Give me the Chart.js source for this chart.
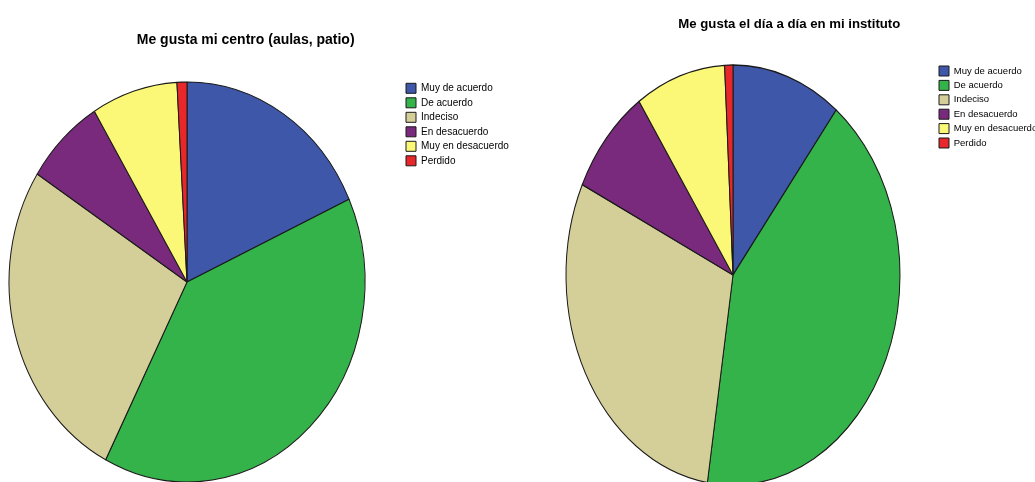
<!DOCTYPE html>
<html>
<head>
<meta charset="utf-8">
<script src="https://cdn.jsdelivr.net/npm/chart.js@4.4.1/dist/chart.umd.min.js"></script>
<style>
  html, body { margin: 0; padding: 0; background: #fff; overflow: hidden; }
  body { width: 1035px; height: 482px; position: relative; }
  canvas { position: absolute; top: 0; }
</style>
</head>
<body>
<canvas id="centroChart"></canvas>
<canvas id="institutoChart"></canvas>
<script>
const categories = ["Muy de acuerdo", "De acuerdo", "Indeciso", "En desacuerdo", "Muy en desacuerdo", "Perdido"];
const sliceColours = ["#3f57a9", "#33b34a", "#d4cf98", "#7a2a7c", "#fbf878", "#e8272b"];
const centroValues = [18.2, 39.3, 26.5, 7.2, 7.8, 0.9];
const institutoValues = [10.6, 41.8, 29.6, 8.4, 8.7, 0.8];
const centroTitle = "Me gusta mi centro (aulas, patio)";
const institutoTitle = "Me gusta el día a día en mi instituto";

const fontFamily = '"Liberation Sans", Arial, sans-serif';
const boxSize = 10;

// SPSS draws these pies a bit taller than wide, so stretch the arcs around the centre
const stretchPlugin = {
  id: "stretch",
  beforeDatasetsDraw(chart, args, opts) {
    const arc = chart.getDatasetMeta(0).data[0];
    const ctx = chart.ctx;
    ctx.save();
    ctx.translate(arc.x, arc.y);
    ctx.scale(1, opts.ratio);
    ctx.translate(-arc.x, -arc.y);
  },
  afterDatasetsDraw(chart) {
    chart.ctx.restore();
  },
};

function textWidth(text, size) {
  const ctx = document.createElement("canvas").getContext("2d");
  ctx.font = size + "px " + fontFamily;
  return ctx.measureText(text).width;
}

// s: page positions wanted for the pie centre / radii, the first legend box and the title line
function makePie(canvasId, title, values, s) {
  const canvas = document.getElementById(canvasId);
  const left = s.canvasLeft;
  const height = 490;
  const legendPad = s.rowGap - Math.max(s.legendFont, boxSize);
  const legendLeft = s.legendX - legendPad - left;
  const padLeft = 2 * (s.cx - left) - legendLeft;
  const maxText = Math.max(...categories.map((c) => textWidth(c, s.legendFont)));
  const legendWidth = legendPad + boxSize + s.legendFont / 2 + maxText + 10;
  const width = Math.ceil(legendLeft + legendWidth + 2);
  canvas.width = width;
  canvas.height = height;
  canvas.style.left = left + "px";

  const lineHeight = s.titleFont * 1.2;
  const areaTop = s.legendY - legendPad;
  const titleTop = s.titleY - lineHeight / 2;
  const areaBottom = 2 * s.cy - areaTop;

  const config = {
    type: "pie",
    data: {
      labels: categories,
      datasets: [{
        data: values,
        backgroundColor: sliceColours,
        borderColor: "#1a1a1a",
        borderWidth: 1,
        clip: false,
      }],
    },
    options: {
      responsive: false,
      animation: false,
      events: [],
      radius: s.rx,
      layout: { padding: { left: padLeft, right: width - legendLeft - legendWidth, top: 0, bottom: height - areaBottom } },
      plugins: {
        stretch: { ratio: s.ry / s.rx },
        tooltip: { enabled: false },
        title: {
          display: true,
          text: title,
          color: "#000",
          font: { family: fontFamily, size: s.titleFont, weight: "bold" },
          padding: { top: titleTop, bottom: areaTop - titleTop - lineHeight },
        },
        legend: {
          position: "right",
          align: "start",
          fullSize: false,
          labels: {
            color: "#000",
            boxWidth: boxSize,
            boxHeight: boxSize,
            padding: legendPad,
            font: { family: fontFamily, size: s.legendFont },
          },
        },
      },
    },
    plugins: [stretchPlugin],
  };
  return new Chart(canvas, config);
}

makePie("centroChart", centroTitle, centroValues, {
  canvasLeft: -40, cx: 187, cy: 282, rx: 178, ry: 200,
  legendX: 406, legendY: 83.3, rowGap: 14.5, legendFont: 10,
  titleY: 40, titleFont: 14,
});

makePie("institutoChart", institutoTitle, institutoValues, {
  canvasLeft: 520, cx: 733, cy: 275, rx: 167, ry: 210,
  legendX: 939, legendY: 66, rowGap: 14.4, legendFont: 9.5,
  titleY: 24, titleFont: 13.2,
});
</script>
</body>
</html>
